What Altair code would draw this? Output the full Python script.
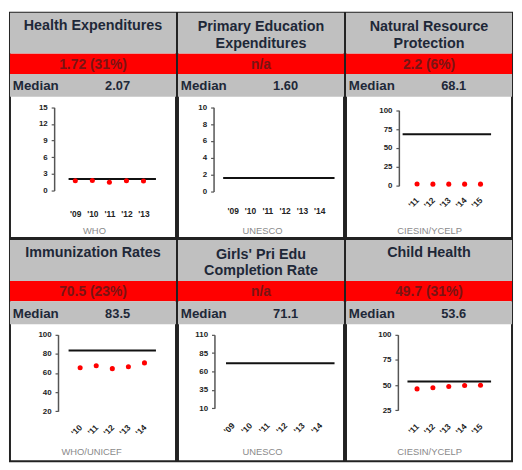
import altair as alt
import pandas as pd

# ---------------- data ----------------
titles = [
    ["Health Expenditures"],
    ["Primary Education", "Expenditures"],
    ["Natural Resource", "Protection"],
    ["Immunization Rates"],
    ["Girls' Pri Edu", "Completion Rate"],
    ["Child Health"],
]
scores = ["1.72 (31%)", "n/a", "2.2 (6%)", "70.5 (23%)", "n/a", "49.7 (31%)"]
medians = [2.07, 1.60, 68.1, 83.5, 71.1, 53.6]
median_labels = ["2.07", "1.60", "68.1", "83.5", "71.1", "53.6"]
sources = ["WHO", "UNESCO", "CIESIN/YCELP", "WHO/UNICEF", "UNESCO", "CIESIN/YCELP"]

health_years = ["'09", "'10", "'11", "'12", "'13"]
health_values = [1.75, 1.8, 1.5, 1.75, 1.72]
primary_years = ["'09", "'10", "'11", "'12", "'13", "'14"]
primary_values = [None, None, None, None, None, None]
natural_years = ["'11", "'12", "'13", "'14", "'15"]
natural_values = [2.3, 2.2, 2.2, 2.2, 2.2]
immun_years = ["'10", "'11", "'12", "'13", "'14"]
immun_values = [65.5, 67.5, 64.5, 66.5, 70.5]
girls_years = ["'09", "'10", "'11", "'12", "'13", "'14"]
girls_values = [None, None, None, None, None, None]
child_years = ["'11", "'12", "'13", "'14", "'15"]
child_values = [46.2, 47.3, 48.6, 49.5, 49.7]

years_list = [health_years, primary_years, natural_years, immun_years, girls_years, child_years]
values_list = [health_values, primary_values, natural_values, immun_values, girls_values, child_values]

y_domains = [[0, 15], [0, 10], [0, 100], [20, 100], [10, 110], [25, 100]]
y_ticks = [
    [0, 3, 6, 9, 12, 15],
    [0, 2, 4, 6, 8, 10],
    [0, 25, 50, 75, 100],
    [20, 40, 60, 80, 100],
    [10, 35, 60, 85, 110],
    [25, 50, 75, 100],
]

# ---------------- layout (reference pixel geometry, scaled) ----------------
SX, SY = 0.972, 0.968
W = 168
ROW_H = [228, 224]

geoms = [
    dict(axis_x=46, ytop=99, ybot=186, px0=68, px1=139, l0=61, l1=152, lab_y=210, angle=0, src=(88, 228)),
    dict(axis_x=37, ytop=99, ybot=187, px0=57, px1=147, l0=47, l1=163, lab_y=207, angle=0, src=(88, 228)),
    dict(axis_x=55, ytop=102, ybot=181, px0=74, px1=140, l0=59, l1=151, lab_y=194, angle=-45, src=(87, 228)),
    dict(axis_x=50, ytop=99, ybot=179, px0=73, px1=140, l0=61, l1=152, lab_y=194, angle=-45, src=(85, 222)),
    dict(axis_x=38, ytop=99, ybot=176, px0=57, px1=148, l0=50, l1=163, lab_y=192, angle=-45, src=(88, 222)),
    dict(axis_x=54, ytop=99, ybot=178, px0=74, px1=140, l0=64, l1=151, lab_y=193, angle=-45, src=(87, 222)),
]

FONT = "Liberation Sans"
GREY = "#c0c0c0"
RED = "#ff0000"
DARK = "#1e2838"


def px(v):
    return round(v * SX, 1)


def py(v):
    return round(v * SY, 1)


one = pd.DataFrame({"k": [0]})


def band(y0, y1, color):
    return alt.Chart(one).mark_rect(color=color).encode(
        x=alt.value(0), x2=alt.value(W), y=alt.value(py(y0)), y2=alt.value(py(y1))
    )


def label(text, x, y, size, color, weight="bold", align="center"):
    return alt.Chart(one).mark_text(
        text=text, font=FONT, fontSize=size, fontWeight=weight, color=color,
        align=align, baseline="middle",
    ).encode(x=alt.value(x), y=alt.value(y))


def make_panel(i, H):
    g = geoms[i]
    layers = [band(0, 43, GREY), band(43, 64, RED), band(64, 88, GREY)]
    t = titles[i]
    if len(t) == 1:
        layers.append(label(t[0], W / 2, py(14), 14.5, DARK))
    else:
        layers.append(label(t[0], W / 2, py(15.5), 14.5, DARK))
        layers.append(label(t[1], W / 2, py(33), 14.5, DARK))
    layers.append(label(scores[i], W / 2, py(54.5), 14, "#7a1414"))
    layers.append(label("Median", px(3), py(77), 13.5, DARK, align="left"))
    layers.append(label(median_labels[i], px(112), py(77), 13, DARK))

    yscale = alt.Scale(domain=y_domains[i], range=[py(g["ybot"]), py(g["ytop"])], nice=False, zero=False)
    yaxis = alt.Axis(
        title=None, values=y_ticks[i], grid=False, offset=-px(g["axis_x"]),
        domainColor="#555555", domainWidth=1.5, tickColor="#555555", tickWidth=1.2, tickSize=3,
        labelFont=FONT, labelFontSize=8, labelFontWeight="bold", labelColor="#222222",
        labelPadding=4, labelOverlap=False,
    )
    yrs = years_list[i]
    rotated = g["angle"] != 0
    xaxis = alt.Axis(
        title=None, domain=False, ticks=False, tickSize=0, grid=False,
        labelAngle=g["angle"], labelAlign="right" if rotated else "center",
        labelBaseline="middle", labelPadding=0, offset=py(g["lab_y"]) - H,
        labelFont=FONT, labelFontSize=8.5, labelFontWeight="bold", labelColor="#222222",
        labelOverlap=False, labelFlush=False,
    )
    df = pd.DataFrame({"year": yrs, "value": values_list[i]})
    points = alt.Chart(df).mark_circle(size=26, color=RED, opacity=1).encode(
        x=alt.X("year:N", sort=yrs,
                scale=alt.Scale(type="point", domain=yrs, range=[px(g["px0"]), px(g["px1"])], padding=0),
                axis=xaxis),
        y=alt.Y("value:Q", scale=yscale, axis=yaxis),
    )
    rule = alt.Chart(pd.DataFrame({"median": [medians[i]]})).mark_rule(color="#111111", strokeWidth=2).encode(
        x=alt.value(px(g["l0"])), x2=alt.value(px(g["l1"])),
        y=alt.Y("median:Q", scale=yscale, axis=yaxis),
    )
    layers += [rule, points]
    sx, sy = g["src"]
    layers.append(label(sources[i], px(sx), py(sy), 9.5, "#8a8a8a", weight="normal"))
    return alt.layer(*layers).properties(width=W, height=H)


row1 = alt.hconcat(*[make_panel(i, ROW_H[0]) for i in range(3)], spacing=0)
row2 = alt.hconcat(*[make_panel(i, ROW_H[1]) for i in range(3, 6)], spacing=0)

chart = (
    alt.vconcat(row1, row2, spacing=0)
    .properties(padding=1, background="white")
    .configure_view(stroke="#222222", strokeWidth=2)
    .configure_concat(spacing=0)
)

chart.save("out.html", embed_options={"renderer": "svg", "actions": False})
